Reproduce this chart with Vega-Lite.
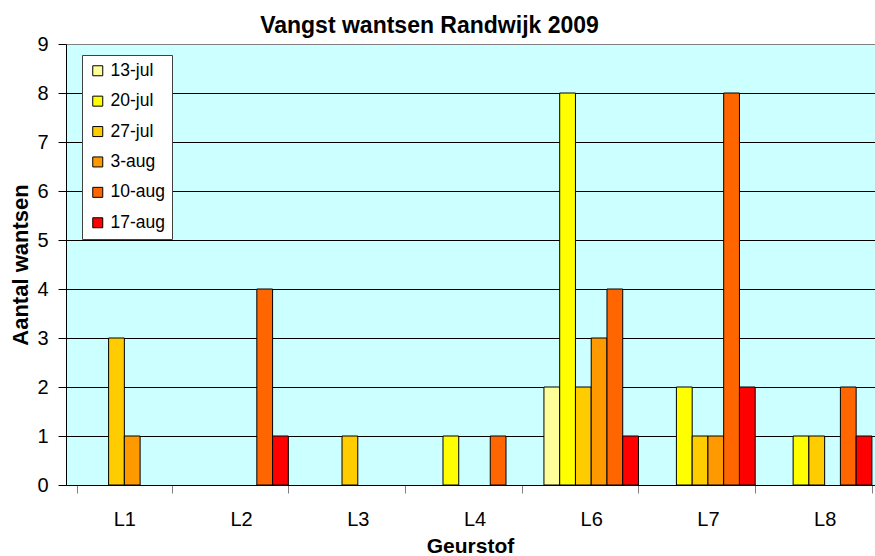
{
  "$schema": "https://vega.github.io/schema/vega-lite/v6.json",
  "width": 809,
  "height": 441,
  "autosize": {"type": "none"},
  "padding": {"left": 66, "top": 44, "right": 0, "bottom": 71},
  "background": "white",
  "config": {
    "font": "Liberation Sans",
    "view": {"fill": "#CCFFFF", "stroke": null}
  },
  "title": {
    "text": "Vangst wantsen Randwijk 2009",
    "fontSize": 23,
    "fontWeight": "bold",
    "color": "black",
    "anchor": "middle",
    "dx": -41,
    "dy": 22,
    "baseline": "alphabetic",
    "offset": 0
  },
  "data": {
    "values": [
      {"geurstof": "L1", "datum": "27-jul", "aantal": 3},
      {"geurstof": "L1", "datum": "3-aug", "aantal": 1},
      {"geurstof": "L2", "datum": "10-aug", "aantal": 4},
      {"geurstof": "L2", "datum": "17-aug", "aantal": 1},
      {"geurstof": "L3", "datum": "27-jul", "aantal": 1},
      {"geurstof": "L4", "datum": "20-jul", "aantal": 1},
      {"geurstof": "L4", "datum": "10-aug", "aantal": 1},
      {"geurstof": "L6", "datum": "13-jul", "aantal": 2},
      {"geurstof": "L6", "datum": "20-jul", "aantal": 8},
      {"geurstof": "L6", "datum": "27-jul", "aantal": 2},
      {"geurstof": "L6", "datum": "3-aug", "aantal": 3},
      {"geurstof": "L6", "datum": "10-aug", "aantal": 4},
      {"geurstof": "L6", "datum": "17-aug", "aantal": 1},
      {"geurstof": "L7", "datum": "20-jul", "aantal": 2},
      {"geurstof": "L7", "datum": "27-jul", "aantal": 1},
      {"geurstof": "L7", "datum": "3-aug", "aantal": 1},
      {"geurstof": "L7", "datum": "10-aug", "aantal": 8},
      {"geurstof": "L7", "datum": "17-aug", "aantal": 2},
      {"geurstof": "L8", "datum": "20-jul", "aantal": 1},
      {"geurstof": "L8", "datum": "27-jul", "aantal": 1},
      {"geurstof": "L8", "datum": "10-aug", "aantal": 2},
      {"geurstof": "L8", "datum": "17-aug", "aantal": 1}
    ]
  },
  "mark": {"type": "bar", "stroke": "black", "strokeWidth": 1},
  "encoding": {
    "x": {
      "field": "geurstof",
      "type": "nominal",
      "sort": ["L1", "L2", "L3", "L4", "L6", "L7", "L8"],
      "scale": {"range": [0, 817], "paddingInner": 0.19, "paddingOuter": 0.095},
      "axis": {
        "title": "Geurstof",
        "titleFontSize": 21,
        "titleFontWeight": "bold",
        "titleColor": "black",
        "titleX": 404,
        "titleY": 67,
        "titleBaseline": "alphabetic",
        "titleAlign": "center",
        "titleAnchor": null,
        "tickBand": "extent",
        "tickSize": 8,
        "tickColor": "#808080",
        "domainColor": "black",
        "labelFontSize": 20,
        "labelColor": "black",
        "labelPadding": 16,
        "labelAngle": 0,
        "grid": false
      }
    },
    "xOffset": {
      "field": "datum",
      "type": "nominal",
      "sort": ["13-jul", "20-jul", "27-jul", "3-aug", "10-aug", "17-aug"],
      "scale": {"domain": ["13-jul", "20-jul", "27-jul", "3-aug", "10-aug", "17-aug"], "paddingInner": 0, "paddingOuter": 0}
    },
    "y": {
      "field": "aantal",
      "type": "quantitative",
      "scale": {"domain": [0, 9], "nice": false},
      "axis": {
        "title": "Aantal wantsen",
        "titleFontSize": 22,
        "titleFontWeight": "bold",
        "titleColor": "black",
        "titleX": -39,
        "titleY": 220.5,
        "titleAngle": -90,
        "titleBaseline": "alphabetic",
        "titleAlign": "center",
        "values": [0, 1, 2, 3, 4, 5, 6, 7, 8, 9],
        "tickSize": 8,
        "tickColor": "black",
        "domainColor": "black",
        "labelFontSize": 20,
        "labelColor": "black",
        "labelPadding": 10,
        "grid": true,
        "gridOpacity": 1,
        "gridColor": {"condition": {"test": "datum.value === 9", "value": "#808080"}, "value": "black"}
      }
    },
    "color": {
      "field": "datum",
      "type": "nominal",
      "sort": ["13-jul", "20-jul", "27-jul", "3-aug", "10-aug", "17-aug"],
      "scale": {
        "domain": ["13-jul", "20-jul", "27-jul", "3-aug", "10-aug", "17-aug"],
        "range": ["#FFFF99", "#FFFF00", "#FFCC00", "#FF9900", "#FF6600", "#FF0000"]
      },
      "legend": {
        "orient": "none",
        "legendX": 16,
        "legendY": 11,
        "title": null,
        "fillColor": "white",
        "strokeColor": "#404040",
        "padding": 7,
        "symbolType": "square",
        "symbolSize": 100,
        "symbolStrokeColor": "black",
        "symbolStrokeWidth": 1,
        "symbolOpacity": 1,
        "labelFontSize": 17.5,
        "labelColor": "black",
        "labelOffset": 4,
        "rowPadding": 11.4
      }
    }
  }
}
